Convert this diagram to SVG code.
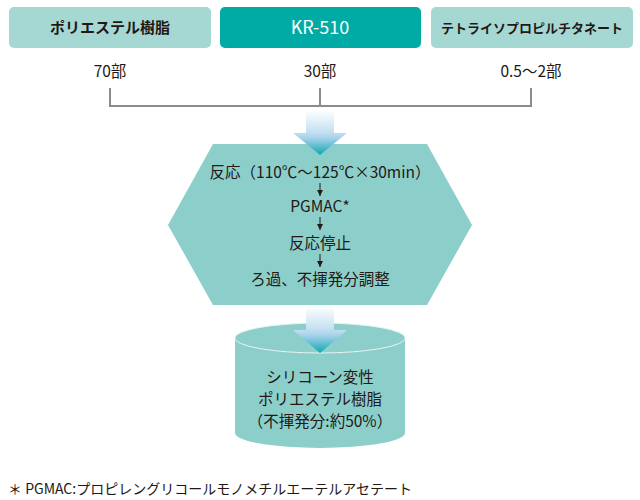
<svg xmlns="http://www.w3.org/2000/svg" width="640" height="500" viewBox="0 0 640 500">
<style>
text{font-family:"Noto Sans CJK JP","Liberation Sans",sans-serif;fill:#231815;text-anchor:middle}
.lt{fill:#a6d8d3}
.b{font-weight:bold;font-size:15px}
.t{font-size:15.5px}
.conn{stroke:#8c8c8c;stroke-width:2;fill:none}
.sm{stroke:#231815;stroke-width:1;fill:none}
.body{fill:#8ccfca}
</style>
<defs>
<linearGradient id="g" x1="0" y1="0" x2="0" y2="1">
<stop offset="0" stop-color="#ffffff"/>
<stop offset="0.5" stop-color="#c2dff2"/>
<stop offset="0.62" stop-color="#a9d2ec"/>
<stop offset="1" stop-color="#10a7b1"/>
</linearGradient>
<marker id="ah" viewBox="0 0 6 6" refX="6" refY="3" markerWidth="6" markerHeight="6" markerUnits="userSpaceOnUse" orient="auto">
<path d="M0,0 L6,3 L0,6 Z" fill="#231815"/>
</marker>
</defs>
<g id="n1"><rect class="lt" x="9" y="7" width="202" height="41" rx="5"/><text class="b" x="110" y="33">ポリエステル樹脂</text></g>
<g id="n2"><rect x="220" y="7" width="201" height="41" rx="5" fill="#00aba6"/><text x="320" y="34" style="fill:#fff;font-size:18px">KR-510</text></g>
<g id="n3"><rect class="lt" x="431" y="7" width="202" height="41" rx="5"/><text class="b" x="532" y="33" style="font-size:13px">テトライソプロピルチタネート</text></g>
<g id="labels">
<text class="t" x="110" y="77">70部</text>
<text class="t" x="320" y="77">30部</text>
<text class="t" x="531" y="77">0.5〜2部</text>
</g>
<g id="connectors">
<path class="conn" d="M110,88 V106 H531 V88 M320,88 V106"/>
</g>
<g id="n4">
<polygon class="body" points="213,144 427,144 472,225 427,305 213,305 168,225"/>
<path d="M306,110 H334 V133 H347 L320,155 L293,133 H306 Z" fill="url(#g)"/>
<text class="t" x="320" y="178">反応（110℃〜125℃×30min）</text>
<line class="sm" x1="320" y1="183" x2="320" y2="196" marker-end="url(#ah)"/>
<text class="t" x="320" y="212">PGMAC*</text>
<line class="sm" x1="320" y1="217" x2="320" y2="230" marker-end="url(#ah)"/>
<text class="t" x="320" y="249">反応停止</text>
<line class="sm" x1="320" y1="254" x2="320" y2="267" marker-end="url(#ah)"/>
<text class="t" x="320" y="285">ろ過、不揮発分調整</text>
</g>
<g id="n5">
<path class="body" d="M235,338 V433 A85,15 0 0 0 405,433 V338 Z"/>
<ellipse class="body" cx="320" cy="338" rx="85" ry="15" stroke="#e6f4f2" stroke-width="1"/>
<path d="M306,306 H334 V330 H347 L320,353 L293,330 H306 Z" fill="url(#g)"/>
<text class="t" x="320" y="383">シリコーン変性</text>
<text class="t" x="320" y="405">ポリエステル樹脂</text>
<text class="t" x="320" y="427">（不揮発分:約50%）</text>
</g>
<g id="note"><text x="8" y="494" style="text-anchor:start;font-size:14px">＊ PGMAC:プロピレングリコールモノメチルエーテルアセテート</text></g>
</svg>
